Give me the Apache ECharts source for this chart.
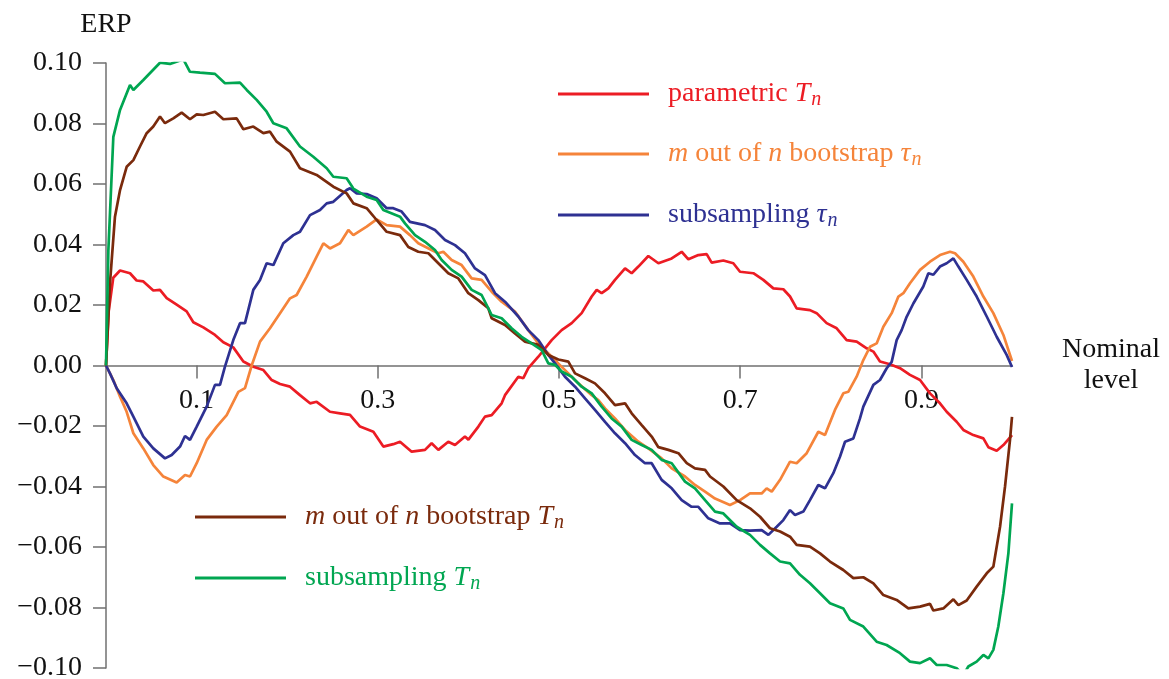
<!DOCTYPE html>
<html>
<head>
<meta charset="utf-8">
<script src="https://cdn.jsdelivr.net/npm/echarts@6/dist/echarts.min.js"></script>
<style>
html,body{margin:0;padding:0;background:#fff;}
#chart{width:1169px;height:679px;}
</style>
</head>
<body>
<div id="chart"></div>
<script>
// ---- data (x = nominal level, y = ERP) ----
const xTickValues = [0.1, 0.3, 0.5, 0.7, 0.9];
const seriesNames = ['parametric T_n', 'm out of n bootstrap tau_n', 'subsampling tau_n', 'm out of n bootstrap T_n', 'subsampling T_n'];

const parametricT = [[0,0],[0.003,0.018],[0.008,0.029],[0.0155,0.0314],[0.0265,0.0305],[0.0338,0.0281],[0.0412,0.0278],[0.0522,0.0248],[0.0596,0.025],[0.067,0.0223],[0.078,0.0201],[0.089,0.0179],[0.0964,0.0143],[0.1074,0.0126],[0.1203,0.0101],[0.1295,0.0077],[0.1405,0.006],[0.1516,0.0013],[0.1626,-0.0004],[0.1737,-0.0015],[0.1829,-0.0048],[0.1921,-0.0061],[0.2031,-0.007],[0.2141,-0.0098],[0.2252,-0.0125],[0.2325,-0.012],[0.2472,-0.0153],[0.2583,-0.0158],[0.2693,-0.0163],[0.2804,-0.0202],[0.2951,-0.0219],[0.3061,-0.0268],[0.3171,-0.026],[0.3245,-0.0252],[0.3374,-0.0285],[0.3521,-0.0279],[0.3594,-0.0257],[0.3668,-0.0279],[0.3778,-0.0252],[0.3852,-0.0263],[0.3962,-0.0235],[0.4,-0.0245],[0.411,-0.0202],[0.4183,-0.0169],[0.4257,-0.0164],[0.4367,-0.0125],[0.4404,-0.0098],[0.4551,-0.0037],[0.4606,-0.0042],[0.4661,-0.0009],[0.4772,0.0029],[0.4919,0.0084],[0.5029,0.0117],[0.514,0.014],[0.525,0.0173],[0.5361,0.0228],[0.5416,0.025],[0.5471,0.0239],[0.5545,0.0255],[0.5618,0.0283],[0.5729,0.0321],[0.5802,0.0305],[0.5876,0.0327],[0.5986,0.0362],[0.6097,0.0338],[0.6244,0.0354],[0.6354,0.0376],[0.6428,0.0351],[0.6538,0.0365],[0.663,0.0368],[0.6685,0.034],[0.6814,0.0347],[0.6924,0.0338],[0.6998,0.031],[0.7145,0.0305],[0.7255,0.0283],[0.7366,0.0255],[0.7476,0.0252],[0.755,0.0228],[0.7623,0.0189],[0.777,0.0183],[0.7844,0.0173],[0.7954,0.014],[0.8065,0.0123],[0.8175,0.0084],[0.8286,0.0079],[0.8396,0.0057],[0.847,0.0046],[0.8543,0.0013],[0.8653,0.0004],[0.8764,-0.0009],[0.8874,-0.0031],[0.8985,-0.0048],[0.9095,-0.0092],[0.9205,-0.0125],[0.9279,-0.0153],[0.9389,-0.0186],[0.9463,-0.0213],[0.9573,-0.023],[0.9684,-0.0241],[0.9739,-0.027],[0.9831,-0.0282],[0.9905,-0.0263],[1,-0.023]];

const bootstrapTau = [[0,0],[0.0081,-0.0048],[0.0155,-0.0103],[0.0228,-0.0153],[0.0302,-0.0224],[0.0412,-0.0274],[0.0522,-0.0329],[0.0633,-0.0367],[0.078,-0.0387],[0.0872,-0.0362],[0.0927,-0.0367],[0.1001,-0.0323],[0.1111,-0.0246],[0.1222,-0.0202],[0.1332,-0.0164],[0.1461,-0.0087],[0.1534,-0.0075],[0.1608,0],[0.17,0.0079],[0.181,0.0123],[0.1921,0.0173],[0.2031,0.0222],[0.2104,0.0233],[0.2215,0.0294],[0.2325,0.036],[0.2399,0.0404],[0.2472,0.0387],[0.2583,0.0404],[0.2675,0.0448],[0.273,0.0431],[0.2877,0.0459],[0.2987,0.0483],[0.3098,0.0464],[0.3245,0.0459],[0.3355,0.0431],[0.3447,0.0404],[0.3594,0.0382],[0.3668,0.0371],[0.3723,0.0376],[0.3815,0.0349],[0.3925,0.0332],[0.4036,0.0288],[0.4146,0.0283],[0.4257,0.0244],[0.4367,0.0211],[0.4514,0.0178],[0.4661,0.0117],[0.4772,0.0073],[0.4919,0.0029],[0.5,0.0004],[0.5103,-0.0026],[0.5214,-0.0059],[0.5361,-0.0098],[0.5434,-0.0114],[0.5508,-0.0142],[0.5618,-0.0175],[0.5729,-0.0213],[0.5876,-0.0252],[0.5986,-0.0274],[0.6133,-0.0307],[0.6244,-0.034],[0.6391,-0.0367],[0.6501,-0.0395],[0.6612,-0.0417],[0.6722,-0.044],[0.6887,-0.0461],[0.6998,-0.0445],[0.7108,-0.0423],[0.7237,-0.0423],[0.7292,-0.0406],[0.7348,-0.0417],[0.744,-0.0378],[0.755,-0.0318],[0.7623,-0.0323],[0.7734,-0.029],[0.7862,-0.0219],[0.7936,-0.023],[0.8046,-0.0147],[0.8138,-0.0092],[0.8193,-0.0087],[0.8285,-0.0037],[0.8359,0.0018],[0.8433,0.0062],[0.8506,0.0073],[0.858,0.0128],[0.8672,0.0173],[0.8746,0.0228],[0.8801,0.0239],[0.8874,0.0272],[0.8985,0.0316],[0.9095,0.0343],[0.9205,0.0365],[0.9316,0.0376],[0.9371,0.0371],[0.9463,0.0343],[0.9573,0.0294],[0.9684,0.0228],[0.9794,0.0173],[0.9905,0.0101],[1,0.0015]];

const subsamplingTau = [[0,0],[0.0044,-0.0026],[0.0118,-0.0075],[0.0228,-0.0125],[0.0302,-0.0169],[0.0412,-0.0235],[0.0522,-0.0274],[0.0651,-0.0307],[0.0725,-0.0296],[0.0817,-0.0268],[0.0872,-0.0233],[0.0927,-0.0246],[0.1001,-0.0202],[0.1111,-0.0136],[0.1203,-0.0064],[0.1258,-0.0064],[0.1313,-0.0004],[0.1405,0.0084],[0.1479,0.014],[0.1534,0.014],[0.1626,0.025],[0.17,0.0283],[0.1773,0.0338],[0.1847,0.0332],[0.1957,0.0404],[0.2068,0.0431],[0.2141,0.0442],[0.2252,0.0497],[0.2362,0.0514],[0.2436,0.0536],[0.2509,0.0541],[0.2656,0.058],[0.2693,0.0586],[0.2767,0.0569],[0.2877,0.0567],[0.2987,0.0553],[0.3098,0.052],[0.3171,0.052],[0.3263,0.0509],[0.3355,0.0475],[0.3521,0.0464],[0.3631,0.0448],[0.3742,0.0415],[0.3852,0.0398],[0.3962,0.0371],[0.4073,0.0321],[0.4183,0.0299],[0.4294,0.0239],[0.4404,0.0211],[0.4551,0.0162],[0.4661,0.0117],[0.4772,0.0084],[0.4882,0.0035],[0.4956,0.0007],[0.5066,-0.0037],[0.5177,-0.007],[0.5287,-0.0109],[0.5397,-0.0147],[0.5508,-0.0186],[0.5618,-0.0224],[0.5729,-0.0257],[0.5839,-0.0296],[0.5949,-0.0323],[0.6023,-0.0323],[0.6133,-0.0378],[0.6244,-0.0406],[0.6354,-0.0445],[0.6464,-0.0467],[0.6538,-0.0467],[0.6648,-0.0505],[0.6777,-0.0522],[0.6887,-0.0522],[0.6998,-0.0544],[0.7108,-0.0546],[0.7237,-0.0544],[0.7311,-0.056],[0.7403,-0.0533],[0.7476,-0.0511],[0.755,-0.0478],[0.7605,-0.0494],[0.7697,-0.0483],[0.777,-0.0445],[0.7862,-0.0395],[0.7936,-0.0406],[0.8028,-0.0356],[0.8102,-0.0301],[0.8157,-0.0252],[0.8249,-0.0241],[0.8322,-0.0175],[0.8359,-0.0136],[0.847,-0.0064],[0.8543,-0.0048],[0.8617,-0.0009],[0.8672,0.0012],[0.8727,0.0084],[0.8782,0.0117],[0.8837,0.0161],[0.8911,0.0205],[0.9021,0.0261],[0.9077,0.0305],[0.9132,0.03],[0.9205,0.0327],[0.9279,0.0338],[0.9353,0.0354],[0.9408,0.0327],[0.95,0.0283],[0.961,0.0228],[0.9721,0.0162],[0.9831,0.0095],[0.9941,0.0035],[1,-0.0005]];

const bootstrapT = [[0,0],[0.0044,0.0272],[0.0099,0.0492],[0.0155,0.058],[0.0228,0.0657],[0.0302,0.0679],[0.0375,0.0724],[0.0449,0.0768],[0.0522,0.079],[0.0596,0.0823],[0.0651,0.0801],[0.0743,0.0817],[0.0835,0.0836],[0.0927,0.0814],[0.1001,0.083],[0.1074,0.0828],[0.1203,0.0839],[0.1295,0.0814],[0.1442,0.0817],[0.1516,0.0781],[0.1626,0.079],[0.1737,0.0768],[0.181,0.0773],[0.1884,0.074],[0.2031,0.0707],[0.2141,0.0652],[0.2325,0.063],[0.2509,0.0591],[0.2656,0.0569],[0.273,0.0536],[0.2877,0.052],[0.2987,0.0481],[0.3098,0.0442],[0.3245,0.0431],[0.3337,0.0392],[0.3447,0.0376],[0.3558,0.0371],[0.3668,0.0338],[0.3778,0.0305],[0.3889,0.0288],[0.3999,0.0239],[0.411,0.0216],[0.422,0.0189],[0.4257,0.0156],[0.4404,0.0134],[0.4514,0.0106],[0.4625,0.0079],[0.4772,0.0068],[0.4882,0.0035],[0.4993,0.002],[0.5103,0.0013],[0.5177,-0.0026],[0.5287,-0.0042],[0.5397,-0.0059],[0.5508,-0.0092],[0.5618,-0.0131],[0.5729,-0.0125],[0.5802,-0.0158],[0.5913,-0.0197],[0.6023,-0.0235],[0.6097,-0.027],[0.6207,-0.0279],[0.6318,-0.029],[0.641,-0.0323],[0.6501,-0.034],[0.6612,-0.0345],[0.6667,-0.0367],[0.6814,-0.04],[0.6961,-0.0445],[0.7108,-0.0472],[0.7219,-0.05],[0.7329,-0.0538],[0.744,-0.0549],[0.755,-0.0566],[0.7623,-0.0593],[0.777,-0.0599],[0.7881,-0.0621],[0.7991,-0.0648],[0.8138,-0.0676],[0.8249,-0.0703],[0.8359,-0.07],[0.847,-0.072],[0.858,-0.0759],[0.8727,-0.0775],[0.8856,-0.0803],[0.8985,-0.0797],[0.9095,-0.0788],[0.9132,-0.081],[0.9242,-0.0803],[0.9353,-0.0773],[0.9408,-0.0792],[0.95,-0.0777],[0.961,-0.0731],[0.9721,-0.0687],[0.9794,-0.0665],[0.9868,-0.0533],[0.9923,-0.04],[0.9978,-0.0246],[1,-0.017]];

const subsamplingT = [[0,0],[0.0026,0.038],[0.0081,0.0756],[0.0155,0.0845],[0.0265,0.0927],[0.0302,0.0911],[0.0412,0.0944],[0.0596,0.1001],[0.0706,0.0997],[0.0854,0.1012],[0.0927,0.0971],[0.1038,0.0968],[0.1203,0.0964],[0.1313,0.0933],[0.1479,0.0935],[0.1553,0.0911],[0.1663,0.0878],[0.1773,0.0839],[0.1847,0.0801],[0.1994,0.0784],[0.2141,0.0724],[0.2288,0.069],[0.2436,0.0652],[0.2509,0.0624],[0.2656,0.0619],[0.273,0.0585],[0.2877,0.0558],[0.2987,0.0547],[0.3061,0.0514],[0.3245,0.0492],[0.33,0.047],[0.3411,0.0431],[0.3521,0.0409],[0.3631,0.0382],[0.3705,0.0349],[0.3815,0.0316],[0.3925,0.0294],[0.4036,0.025],[0.4146,0.0233],[0.4257,0.0167],[0.4367,0.0156],[0.4477,0.0123],[0.4588,0.0095],[0.4698,0.0073],[0.4809,0.0051],[0.4882,0.0007],[0.4956,0.0002],[0.5029,-0.002],[0.514,-0.0037],[0.525,-0.007],[0.5361,-0.0092],[0.5471,-0.0136],[0.5581,-0.0175],[0.5692,-0.0202],[0.5802,-0.0246],[0.5913,-0.0263],[0.6023,-0.0279],[0.6133,-0.0312],[0.6244,-0.0323],[0.6391,-0.0384],[0.6501,-0.0406],[0.6612,-0.0445],[0.6722,-0.0483],[0.6814,-0.0489],[0.6961,-0.0533],[0.7108,-0.056],[0.7219,-0.0593],[0.7329,-0.0621],[0.744,-0.0648],[0.755,-0.0654],[0.766,-0.0692],[0.777,-0.072],[0.7881,-0.0753],[0.7991,-0.0786],[0.8138,-0.0803],[0.8212,-0.0841],[0.8359,-0.0863],[0.8506,-0.0913],[0.8616,-0.0924],[0.8764,-0.0951],[0.8874,-0.0979],[0.8985,-0.0984],[0.9095,-0.0968],[0.9169,-0.099],[0.9279,-0.099],[0.9389,-0.1001],[0.9463,-0.1023],[0.9518,-0.0995],[0.961,-0.0979],[0.9684,-0.0957],[0.9739,-0.0968],[0.9794,-0.094],[0.9849,-0.0863],[0.9905,-0.0753],[0.996,-0.0621],[1,-0.0456]];

// ---- style ----
const FONT = 'Liberation Serif';
const FS = 28;
const colors = ['#ec1c24', '#f5843a', '#2e3192', '#7a2a0c', '#00a651'];
const legendText = [
  '{g|}parametric {i|T}{s|n}',
  '{g|}{i|m} out of {i|n} bootstrap {i|τ}{s|n}',
  '{g|}subsampling {i|τ}{s|n}',
  '{g|}{i|m} out of {i|n} bootstrap {i|T}{s|n}',
  '{g|}subsampling {i|T}{s|n}'
];
const legendPos = [[558, 93], [558, 153], [558, 214], [195, 516], [195, 577]];
const dataSets = [parametricT, bootstrapTau, subsamplingTau, bootstrapT, subsamplingT];

function richFor(c) {
  return {
    g: {width: 14},
    i: {fontFamily: FONT, fontSize: FS, fontStyle: 'italic', color: c},
    s: {fontFamily: FONT, fontSize: 20, fontStyle: 'italic', color: c, padding: [12, 0, 0, 1]}
  };
}

const GRID_TOP = 63, GRID_BOTTOM = 11, H = 679;
const zeroOffset = -((H - GRID_TOP - GRID_BOTTOM) / 2); // move x axis up to y = 0 level

const chart = echarts.init(document.getElementById('chart'), null, {renderer: 'canvas'});
const option = {
  animation: false,
  backgroundColor: '#fff',
  grid: {left: 106, right: 157, top: GRID_TOP, bottom: GRID_BOTTOM, containLabel: false, outerBoundsMode: 'none'},
  xAxis: {
    type: 'value', min: 0, max: 1, position: 'bottom', offset: zeroOffset,
    name: 'Nominal\nlevel', nameLocation: 'end', nameGap: 99,
    nameTextStyle: {fontFamily: FONT, fontSize: FS, color: '#111', align: 'center', verticalAlign: 'middle', lineHeight: 31, padding: [12, 0, 0, 0]},
    axisLine: {onZero: false, lineStyle: {color: '#707070', width: 1.5}},
    axisTick: {show: true, length: 13, customValues: xTickValues, lineStyle: {color: '#707070', width: 1.5}},
    axisLabel: {customValues: xTickValues, margin: 21, fontFamily: FONT, fontSize: FS, color: '#111', formatter: v => v.toFixed(1)},
    splitLine: {show: false}
  },
  yAxis: {
    type: 'value', min: -0.1, max: 0.1, interval: 0.02,
    name: 'ERP', nameLocation: 'end', nameGap: 38,
    nameTextStyle: {fontFamily: FONT, fontSize: FS, color: '#111', align: 'center', verticalAlign: 'middle'},
    axisLine: {show: true, onZero: false, lineStyle: {color: '#707070', width: 1.5}},
    axisTick: {show: true, length: 13, lineStyle: {color: '#707070', width: 1.5}},
    axisLabel: {margin: 24, fontFamily: FONT, fontSize: FS, color: '#111',
      formatter: v => { const r = Math.round(v * 100) / 100; return (r < 0 ? '−' : '') + Math.abs(r).toFixed(2); }},
    splitLine: {show: false}
  },
  legend: seriesNames.map((n, k) => ({
    data: [n], left: legendPos[k][0], top: legendPos[k][1] - 13,
    icon: 'rect', itemWidth: 91, itemHeight: 3, padding: 0,
    textStyle: {fontFamily: FONT, fontSize: FS, color: colors[k], rich: richFor(colors[k])},
    formatter: () => legendText[k],
    selectedMode: false
  })),
  series: seriesNames.map((n, k) => ({
    name: n, type: 'line', data: dataSets[k], showSymbol: false, symbol: 'none',
    lineStyle: {color: colors[k], width: 2.7}, itemStyle: {color: colors[k]},
    z: 2 + k
  }))
};
chart.setOption(option);
</script>
</body>
</html>
